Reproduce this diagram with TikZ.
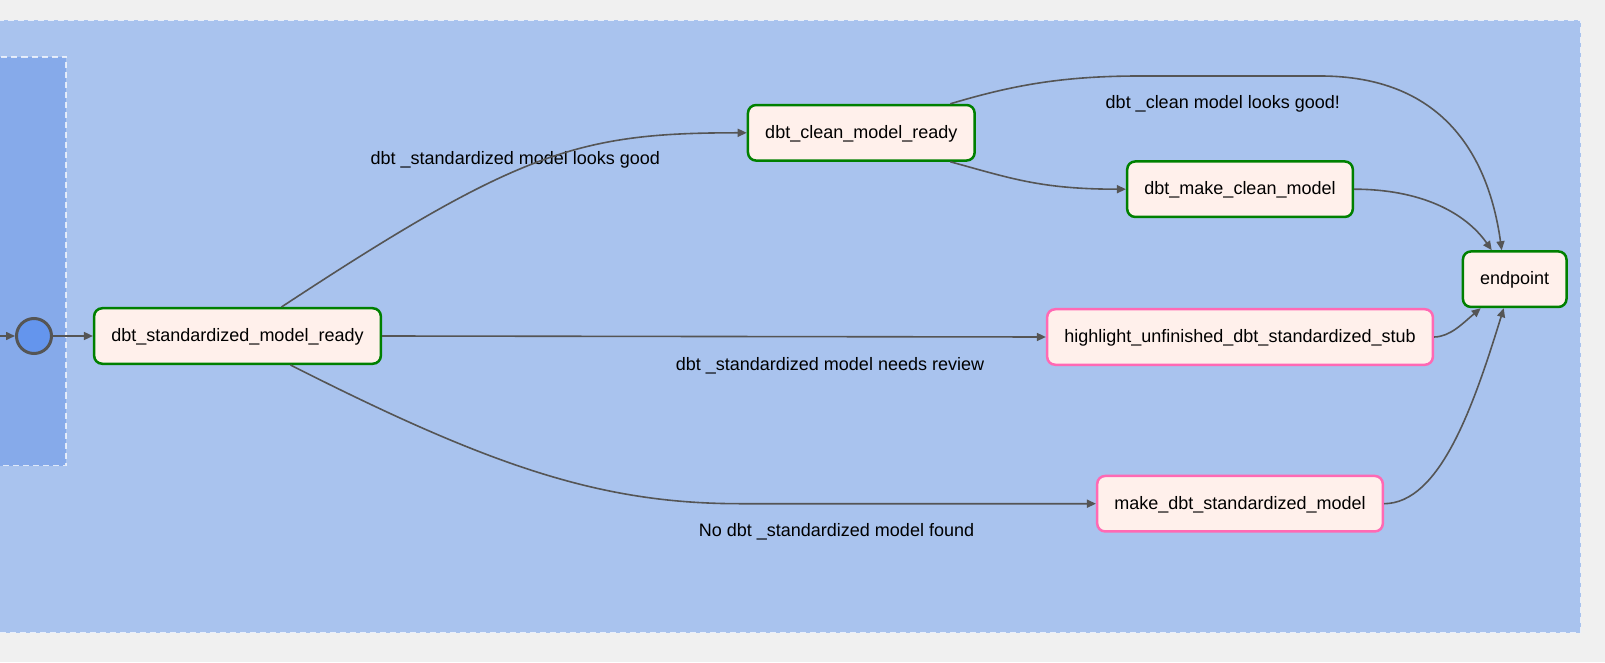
\documentclass[tikz,border=0pt]{standalone}
\usepackage{fontspec}
\setmainfont{Liberation Sans}
\usetikzlibrary{arrows.meta}
\definecolor{pagebg}{HTML}{F0F0F0}
\definecolor{outerblue}{HTML}{A9C3EE}
\definecolor{innerblue}{HTML}{86AAEA}
\definecolor{dotblue}{HTML}{6495ED}
\definecolor{boxfill}{HTML}{FFF0EB}
\definecolor{okgreen}{HTML}{008000}
\definecolor{todopink}{HTML}{FF69B4}
\definecolor{edgegray}{HTML}{555555}
\begin{document}
\begin{tikzpicture}[x=1pt,y=1pt,
  cluster/.style={draw=white, draw opacity=0.75, line width=1.5pt, dash pattern=on 6pt off 4pt},
  box/.style={rectangle, rounded corners=8pt, fill=boxfill, line width=2.5pt, inner xsep=17.25pt,
    minimum height=55.5pt, text height=13pt, text depth=2pt, font=\fontsize{18}{22}\selectfont},
  lbl/.style={inner sep=0pt, text height=13pt, text depth=2pt, font=\fontsize{18}{22}\selectfont},
  link/.style={draw=edgegray, line width=1.6pt, -{Triangle[length=9pt,width=8pt]}}]
  \useasboundingbox (0,0) rectangle (1605,662);
  \fill[pagebg] (0,0) rectangle (1605,662);
  \clip (0,0) rectangle (1605,662);
  \filldraw[fill=outerblue, cluster] (-10,29.3) rectangle (1580.6,641.7);
  \filldraw[fill=innerblue, cluster] (-10,196.5) rectangle (66,605);
  \node[circle, fill=dotblue, draw=edgegray, line width=3pt, minimum size=35pt, inner sep=0pt] (start) at (34,326) {};
  \coordinate (entry) at (-5,326);
  \foreach \nm/\x/\y/\col/\txt in {sready/237.5/326/okgreen/dbt\_standardized\_model\_ready,
      cleanready/861.3/529.2/okgreen/dbt\_clean\_model\_ready,
      makeclean/1240/472.8/okgreen/dbt\_make\_clean\_model,
      endpoint/1514.7/382.8/okgreen/endpoint,
      highlight/1240/325/todopink/highlight\_unfinished\_dbt\_standardized\_stub,
      makestd/1240/158.3/todopink/make\_dbt\_standardized\_model} {
    \node[box, draw=\col] (\nm) at (\x,\y) {\txt};
  }
  \foreach \nm/\x/\y/\txt in {lblgood/515.3/502.5/dbt \_standardized model looks good,
      lblclean/1222.8/558.7/dbt \_clean model looks good!,
      lblreview/830/297/dbt \_standardized model needs review,
      lblnone/836.5/131.3/No dbt \_standardized model found} {
    \node[lbl] (\nm) at (\x,\y) {\txt};
  }
  \draw[link] (entry) -- (start.west);
  \draw[link] (start.east) -- (sready.west);
  \draw[link] ([xshift=44pt]sready.north) .. controls (520,512) and (580,529.2) .. (cleanready.west);
  \draw[link] (sready.east) -- (highlight.west);
  \draw[link] ([xshift=53pt]sready.south) .. controls (490,196) and (600,158.3) .. (740,158.3) -- (makestd.west);
  \draw[link] ([xshift=89pt]cleanready.south) .. controls (1010,484) and (1040,472.8) .. (makeclean.west);
  \draw[link] ([xshift=89pt]cleanready.north) .. controls (1010,576) and (1060,586) .. (1140,586)
    -- (1320,586) .. controls (1440,586) and (1488,510) .. ([xshift=-13pt]endpoint.north);
  \draw[link] (makeclean.east) .. controls (1420,472.8) and (1465,450) .. ([xshift=-23pt]endpoint.north);
  \draw[link] (highlight.east) .. controls (1450,325.3) and (1462,338) .. ([xshift=-34pt]endpoint.south);
  \draw[link] (makestd.east) .. controls (1440,158.7) and (1473.5,255.8) .. ([xshift=-11pt]endpoint.south);
\end{tikzpicture}
\end{document}
